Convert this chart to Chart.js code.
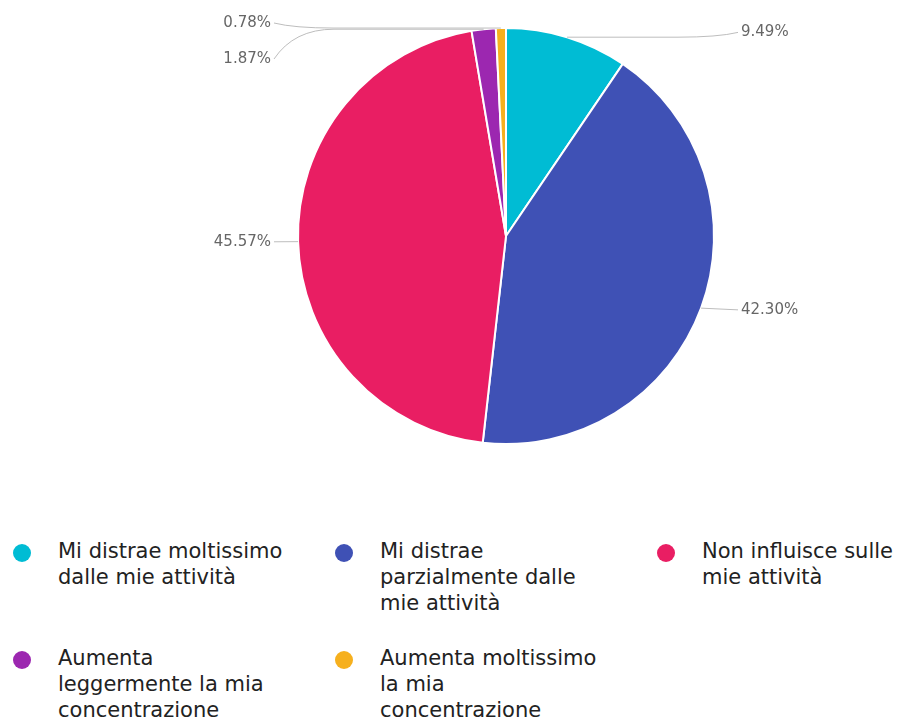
<!DOCTYPE html>
<html>
<head>
<meta charset="utf-8">
<title>Distrazione</title>
<script src="https://cdn.jsdelivr.net/npm/chart.js@4/dist/chart.umd.min.js"></script>
<style>
  body { margin: 0; background: #fff; font-family: "DejaVu Sans", sans-serif; }
  #wrap { position: relative; width: 898px; height: 470px; }
  #legend {
    position: absolute; left: 0; top: 541px; width: 898px;
    display: grid; grid-template-columns: 322px 322px 254px; row-gap: 32px;
  }
  .item { display: flex; align-items: flex-start; }
  .dot { width: 18px; height: 18px; border-radius: 50%; margin: 3px 27px 0 13px; flex: none; }
  .txt { width: 230px; font-size: 21px; line-height: 26px; color: #222; margin-top: -3px; }
</style>
</head>
<body>
<div id="wrap"><canvas id="pie"></canvas></div>
<div id="legend"></div>
<script>
var labels = [
  "Mi distrae moltissimo dalle mie attività",
  "Mi distrae parzialmente dalle mie attività",
  "Non influisce sulle mie attività",
  "Aumenta leggermente la mia concentrazione",
  "Aumenta moltissimo la mia concentrazione"
];
var percentages = [9.49, 42.30, 45.57, 1.87, 0.78];
var colors = ["#00BCD4", "#3F51B5", "#E91E63", "#9C27B0", "#F6B01E"];

// percentage labels outside the pie, joined by thin grey connectors
var outLabels = {
  id: "outLabels",
  afterDatasetsDraw: function (chart) {
    var ctx = chart.ctx;
    var arcs = chart.getDatasetMeta(0).data;
    var items = [];
    arcs.forEach(function (arc, i) {
      var p = arc.getProps(["x", "y", "startAngle", "endAngle", "outerRadius"], true);
      var mid = (p.startAngle + p.endAngle) / 2;
      var right = Math.cos(mid) >= 0;
      items.push({
        i: i, right: right,
        ex: p.x + Math.cos(mid) * p.outerRadius,
        ey: p.y + Math.sin(mid) * p.outerRadius,
        ly: p.y + Math.sin(mid) * (p.outerRadius + 5),
        lx: right ? p.x + p.outerRadius + 27 : p.x - p.outerRadius - 27
      });
    });
    // spread labels vertically so they do not overlap
    [true, false].forEach(function (side) {
      var s = items.filter(function (it) { return it.right === side; })
        .sort(function (a, b) { return a.ly - b.ly; });
      for (var pass = 0; pass < 20; pass++) {
        for (var k = 1; k < s.length; k++) {
          var gap = s[k].ly - s[k - 1].ly;
          if (gap < 36) {
            var d = (36 - gap) / 2;
            s[k - 1].ly -= d; s[k].ly += d;
          }
        }
        s.forEach(function (it) { if (it.ly < 23) it.ly = 23; });
      }
    });
    ctx.save();
    ctx.font = "15px 'DejaVu Sans'";
    ctx.textBaseline = "middle";
    items.forEach(function (it) {
      var out = it.right ? 1 : -1;
      var sx = it.lx - out * 3;
      ctx.strokeStyle = "#bdbdbd";
      ctx.lineWidth = 1;
      ctx.beginPath();
      ctx.moveTo(sx, it.ly);
      if (Math.abs(it.ly - it.ey) > 3) {
        ctx.quadraticCurveTo(sx - out * 20, it.ey, sx - out * 60, it.ey);
      }
      ctx.lineTo(it.ex, it.ey);
      ctx.stroke();
      ctx.fillStyle = "#666";
      ctx.textAlign = it.right ? "left" : "right";
      ctx.fillText(percentages[it.i].toFixed(2) + "%", it.lx, it.ly);
    });
    ctx.restore();
  }
};

var config = {
  type: "pie",
  data: {
    labels: labels,
    datasets: [{
      data: percentages,
      backgroundColor: colors,
      borderColor: "#fff",
      borderWidth: 2,
      hoverOffset: 0,
      radius: 208
    }]
  },
  options: {
    responsive: false,
    animation: false,
    events: [],
    layout: { padding: { left: 114, right: 0, top: 28, bottom: 26 } },
    plugins: { legend: { display: false }, tooltip: { enabled: false } }
  },
  plugins: [outLabels]
};

var canvas = document.getElementById("pie");
canvas.width = 898;
canvas.height = 470;
var myPie = new Chart(canvas.getContext("2d"), config);

// legend below the pie, built from the chart's own legend items
var legendBox = document.getElementById("legend");
myPie.options.plugins.legend.labels.generateLabels(myPie).forEach(function (item) {
  var row = document.createElement("div");
  row.className = "item";
  var dot = document.createElement("span");
  dot.className = "dot";
  dot.style.background = item.fillStyle;
  var txt = document.createElement("span");
  txt.className = "txt";
  txt.textContent = item.text;
  row.appendChild(dot);
  row.appendChild(txt);
  legendBox.appendChild(row);
});
</script>
</body>
</html>
